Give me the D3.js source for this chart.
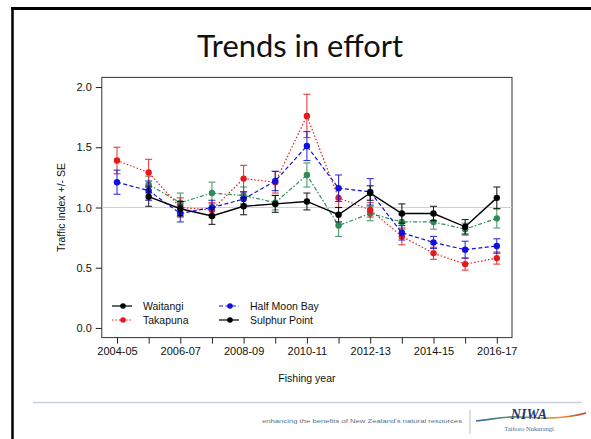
<!DOCTYPE html>
<html><head><meta charset="utf-8">
<script src="https://cdn.jsdelivr.net/npm/d3@7"></script>
<style>
html,body{margin:0;padding:0;background:#fff;}
svg{display:block;}
</style></head>
<body>
<div id="chart"></div>
<script>
// ---- data ----
const years = ["2004-05","2005-06","2006-07","2007-08","2008-09","2009-10","2010-11","2011-12","2012-13","2013-14","2014-15","2015-16","2016-17"];
const tickLabels = ["2004-05","2006-07","2008-09","2010-11","2012-13","2014-15","2016-17"];
const yTicks = [0.0, 0.5, 1.0, 1.5, 2.0];

const waitangi    = [null, 1.09, 0.99, 0.93, 1.01, 1.03, 1.05, 0.94, 1.12, 0.95, 0.95, 0.84, 1.08];
const waitangiSE  = [null, 0.08, 0.06, 0.07, 0.07, 0.07, 0.07, 0.06, 0.06, 0.08, 0.06, 0.06, 0.09];
const takapuna    = [1.39, 1.29, 1.00, 0.98, 1.24, 1.21, 1.76, 1.08, 0.98, 0.76, 0.62, 0.53, 0.58];
const takapunaSE  = [0.11, 0.11, 0.08, 0.06, 0.11, 0.09, 0.18, 0.08, 0.06, 0.07, 0.05, 0.05, 0.05];
const halfMoon    = [1.21, 1.14, 0.95, 1.00, 1.07, 1.22, 1.51, 1.16, 1.13, 0.79, 0.71, 0.65, 0.68];
const halfMoonSE  = [0.10, 0.08, 0.07, 0.06, 0.06, 0.08, 0.12, 0.11, 0.11, 0.06, 0.05, 0.07, 0.06];
const sulphur     = [null, 1.19, 1.04, 1.12, 1.10, 1.04, 1.27, 0.85, 0.95, 0.88, 0.88, 0.82, 0.91];
const sulphurSE   = [null, 0.07, 0.08, 0.09, 0.07, 0.06, 0.10, 0.09, 0.06, 0.06, 0.06, 0.05, 0.08];

const legendNames = ["Waitangi","Takapuna","Half Moon Bay","Sulphur Point"];
const legendColors = ["#000000","#e31a1c","#1111dd","#000000"];
const legendDash = ["none","1.5,2","4,2.5","none"];

const title = "Trends in effort";
const xTitle = "Fishing year";
const yTitle = "Traffic index +/- SE";
const tagline = "enhancing the benefits of New Zealand's natural resources";

// ---- drawing ----
const W = 591, H = 439;
const svg = d3.select("#chart").append("svg").attr("width", W).attr("height", H);
svg.append("rect").attr("width", W).attr("height", H).attr("fill", "#fff");

// slide frame
svg.append("line").attr("x1", 12.5).attr("x2", 12.5).attr("y1", 7).attr("y2", H).attr("stroke", "#000").attr("stroke-width", 2.5);
svg.append("line").attr("x1", 11).attr("x2", W).attr("y1", 8.5).attr("y2", 8.5).attr("stroke", "#000").attr("stroke-width", 3);

// title
const t = svg.append("text").attr("x", 300).attr("y", 57).attr("text-anchor", "middle")
  .attr("font-family", "Lato, 'Open Sans', sans-serif").attr("font-size", 28).attr("fill", "#111").text(title);
const tw = t.node().getComputedTextLength();
t.attr("font-size", 28 * 206 / tw);

const x = d3.scaleLinear().domain([-0.48, 12.48]).range([101.8, 512]);
const y = d3.scaleLinear().domain([-0.08, 2.08]).range([337.6, 77.4]);

// plot box
svg.append("rect").attr("x", x(-0.48)).attr("y", y(2.08)).attr("width", x(12.48) - x(-0.48)).attr("height", y(-0.08) - y(2.08))
  .attr("fill", "none").attr("stroke", "#333").attr("stroke-width", 1);

// reference line at 1
svg.append("line").attr("x1", x(-0.48)).attr("x2", x(12.48)).attr("y1", y(1)).attr("y2", y(1))
  .attr("stroke", "#cfcfcf").attr("stroke-width", 1);

const axisFont = "Liberation Sans, Arial, sans-serif";

// x axis
const xAxis = d3.axisBottom(x).tickValues(d3.range(years.length)).tickSize(6).tickPadding(4)
  .tickFormat(i => tickLabels.includes(years[i]) ? years[i] : "");
const gx = svg.append("g").attr("transform", `translate(0,${y(-0.08)})`).call(xAxis);
gx.select(".domain").remove();
gx.selectAll("line").attr("stroke", "#222");
gx.selectAll("text").attr("font-family", axisFont).attr("font-size", 11).attr("fill", "#111");

// y axis
const yAxis = d3.axisLeft(y).tickValues(yTicks).tickSize(6).tickPadding(4).tickFormat(d3.format(".1f"));
const gy = svg.append("g").attr("transform", `translate(${x(-0.48)},0)`).call(yAxis);
gy.select(".domain").remove();
gy.selectAll("line").attr("stroke", "#222");
gy.selectAll("text").attr("font-family", axisFont).attr("font-size", 11).attr("fill", "#111");

svg.append("text").attr("x", (x(-0.48) + x(12.48)) / 2).attr("y", 382).attr("text-anchor", "middle")
  .attr("font-family", axisFont).attr("font-size", 10.5).attr("fill", "#111").text(xTitle);
svg.append("text").attr("transform", `translate(65,${y(1)}) rotate(-90)`).attr("text-anchor", "middle")
  .attr("font-family", axisFont).attr("font-size", 10.5).attr("fill", "#111").text(yTitle);

// series
const series = [
  {vals: sulphur, se: sulphurSE, color: "#2e8b57", dash: "4,2,1.5,2", w: 1.2},
  {vals: takapuna, se: takapunaSE, color: "#e31a1c", dash: "1.5,2", w: 1.2},
  {vals: halfMoon, se: halfMoonSE, color: "#1111dd", dash: "4,2.5", w: 1.2},
  {vals: waitangi, se: waitangiSE, color: "#000000", dash: null, w: 1.4}
];
series.forEach(s => {
  const pts = s.vals.map((v, i) => ({i, v, e: s.se[i]})).filter(d => d.v != null);
  const g = svg.append("g");
  const line = d3.line().x(d => x(d.i)).y(d => y(d.v));
  g.append("path").datum(pts).attr("d", line).attr("fill", "none").attr("stroke", s.color)
    .attr("stroke-width", s.w).attr("stroke-dasharray", s.dash);
  const eb = g.selectAll(".eb").data(pts).enter().append("g").attr("stroke", s.color).attr("stroke-width", 1.1).attr("opacity", 0.85);
  eb.append("line").attr("x1", d => x(d.i)).attr("x2", d => x(d.i)).attr("y1", d => y(d.v - d.e)).attr("y2", d => y(d.v + d.e));
  eb.append("line").attr("x1", d => x(d.i) - 3.5).attr("x2", d => x(d.i) + 3.5).attr("y1", d => y(d.v + d.e)).attr("y2", d => y(d.v + d.e));
  eb.append("line").attr("x1", d => x(d.i) - 3.5).attr("x2", d => x(d.i) + 3.5).attr("y1", d => y(d.v - d.e)).attr("y2", d => y(d.v - d.e));
  g.selectAll("circle").data(pts).enter().append("circle").attr("cx", d => x(d.i)).attr("cy", d => y(d.v))
    .attr("r", 3.2).attr("fill", s.color);
});

// legend
const legPos = [[112, 306], [112, 320], [219, 306], [219, 320]];
legendNames.forEach((n, k) => {
  const [lx, ly] = legPos[k];
  svg.append("line").attr("x1", lx).attr("x2", lx + 20).attr("y1", ly).attr("y2", ly)
    .attr("stroke", legendColors[k]).attr("stroke-width", 1.2)
    .attr("stroke-dasharray", legendDash[k] === "none" ? null : legendDash[k]);
  svg.append("circle").attr("cx", lx + 11).attr("cy", ly).attr("r", 2.8).attr("fill", legendColors[k]);
  svg.append("text").attr("x", lx + 31).attr("y", ly + 3.8).attr("font-family", axisFont).attr("font-size", 10.5)
    .attr("fill", "#111").text(n);
});

// footer
svg.append("line").attr("x1", 33).attr("x2", 582).attr("y1", 402.5).attr("y2", 402.5).attr("stroke", "#c9d2dc").attr("stroke-width", 1.5);
const tg = svg.append("text").attr("x", 262).attr("y", 423).attr("font-family", axisFont).attr("font-size", 5.5)
  .attr("fill", "#5a6f86").text(tagline);
tg.attr("textLength", 200).attr("lengthAdjust", "spacingAndGlyphs");
svg.append("line").attr("x1", 470).attr("x2", 470).attr("y1", 410).attr("y2", 434).attr("stroke", "#b8c0c8").attr("stroke-width", 1);

// NIWA logo
const grad = svg.append("defs").append("linearGradient").attr("id", "sw").attr("x1", "0").attr("x2", "1");
grad.append("stop").attr("offset", "0").attr("stop-color", "#3a6fb0");
grad.append("stop").attr("offset", "0.45").attr("stop-color", "#6a9a3a");
grad.append("stop").attr("offset", "0.75").attr("stop-color", "#e0a030");
grad.append("stop").attr("offset", "1").attr("stop-color", "#c8382a");
svg.append("path").attr("d", "M476,421 C495,419 505,416 520,417 C540,418 560,420 586,413")
  .attr("fill", "none").attr("stroke", "url(#sw)").attr("stroke-width", 1.6);
svg.append("text").attr("x", 529).attr("y", 419).attr("text-anchor", "middle")
  .attr("font-family", "Liberation Serif, serif").attr("font-style", "italic").attr("font-weight", "bold")
  .attr("font-size", 14).attr("fill", "#24357e").text("NIWA");
svg.append("text").attr("x", 529).attr("y", 431).attr("text-anchor", "middle")
  .attr("font-family", "Liberation Serif, serif").attr("font-size", 6.5).attr("fill", "#4a6a9a").text("Taihoro Nukurangi");
</script>
</body></html>
